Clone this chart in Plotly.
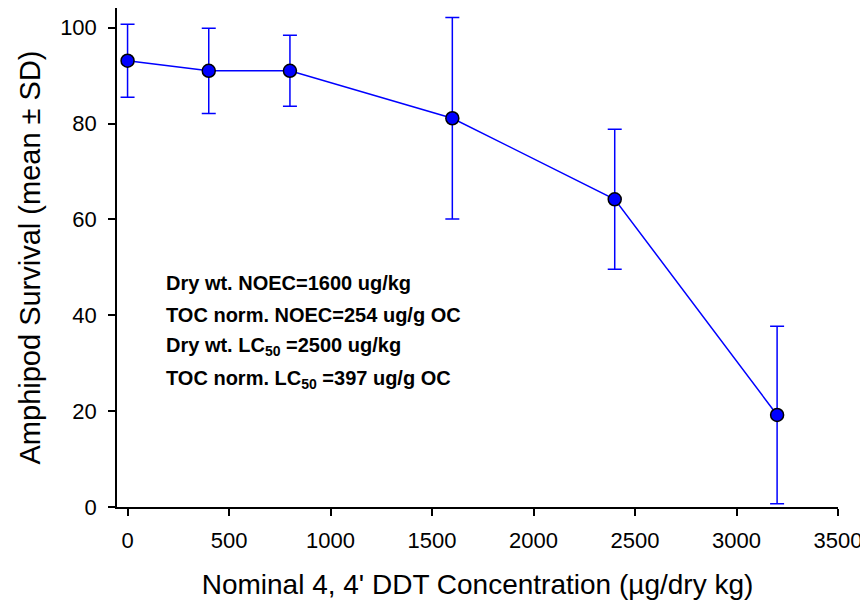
import plotly.graph_objects as go

conc = [0, 400, 800, 1600, 2400, 3200]
survival = [93.1, 91.0, 91.0, 81.1, 64.2, 19.2]
sd = [7.6, 8.9, 7.4, 21.0, 14.6, 18.5]

x_ticks = [0, 500, 1000, 1500, 2000, 2500, 3000, 3500]
y_ticks = [0, 20, 40, 60, 80, 100]

notes = [
    "Dry wt. NOEC=1600 ug/kg",
    "TOC norm. NOEC=254 ug/g OC",
    "Dry wt. LC<sub>50</sub> =2500 ug/kg",
    "TOC norm. LC<sub>50</sub> =397 ug/g OC",
]
note_x = 178
note_y = [46.8, 40.1, 33.4, 26.7]

FONT = "Liberation Sans, Arial"

fig = go.Figure()
fig.add_trace(go.Scatter(
    x=conc, y=survival, mode="lines+markers",
    line=dict(color="#0000ff", width=1.5),
    marker=dict(size=13, color="#0000ff", line=dict(color="black", width=1.5)),
    error_y=dict(type="data", array=sd, visible=True, color="#0000ff",
                 thickness=1.5, width=7),
    showlegend=False,
))

for t, yv in zip(notes, note_y):
    fig.add_annotation(x=note_x, y=yv, xref="x", yref="y", text="<b>" + t + "</b>",
                       showarrow=False, xanchor="left", yanchor="middle",
                       font=dict(family=FONT, size=20, color="black"))

axis_common = dict(showline=True, linecolor="black", linewidth=1.5, ticks="outside",
                   ticklen=7, tickwidth=1.5, tickcolor="black", showgrid=False,
                   zeroline=False, mirror=False,
                   tickfont=dict(family=FONT, size=22, color="black"))

fig.update_xaxes(range=[-52, 3500], tickvals=x_ticks, ticktext=[str(v) for v in x_ticks],
                 ticklabelstandoff=6,
                 title=dict(text="Nominal 4, 4' DDT Concentration (µg/dry kg)",
                            font=dict(family=FONT, size=28, color="black"),
                            standoff=22),
                 **axis_common)
fig.update_yaxes(range=[0, 104.1], tickvals=y_ticks, ticktext=[str(v) for v in y_ticks],
                 ticklabelstandoff=7,
                 title=dict(text="Amphipod Survival (mean ± SD)",
                            font=dict(family=FONT, size=29, color="black"),
                            standoff=11),
                 **axis_common)

fig.update_layout(width=860, height=599, plot_bgcolor="white", paper_bgcolor="white",
                  margin=dict(l=109, r=30, t=0, b=100, autoexpand=False))

fig.write_html("out.html")
